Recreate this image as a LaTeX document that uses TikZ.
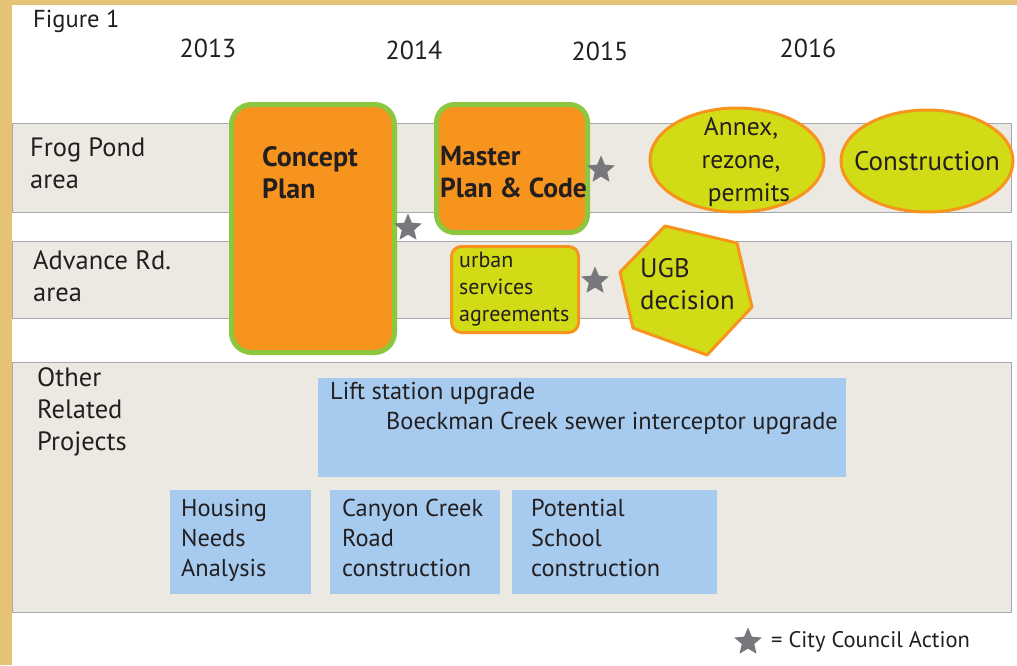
\documentclass[tikz,border=0pt]{standalone}
\usepackage{fontspec}
\setmainfont{PT Sans}
\usepackage[dvipsnames]{xcolor}
\usetikzlibrary{shapes.geometric}

\definecolor{goldbg}{HTML}{E6C277}
\definecolor{bandgray}{HTML}{ECE9E2}
\definecolor{bandline}{HTML}{A9A9A9}
\definecolor{planorange}{HTML}{F7941D}
\definecolor{plangreen}{HTML}{8DC63F}
\definecolor{limefill}{HTML}{D2DC16}
\definecolor{projblue}{HTML}{A6CBEF}
\definecolor{stargray}{HTML}{77777C}
\definecolor{inkgray}{HTML}{231F20}

\begin{document}
\begin{tikzpicture}[x=1pt,y=-1pt,text=inkgray,font=\fontsize{26}{32}\selectfont,
  band/.style={rectangle,draw=bandline,fill=bandgray,line width=1.2pt,anchor=north west},
  plan node/.style={rectangle,rounded corners=20pt,draw=plangreen,fill=planorange,line width=5pt,anchor=north west},
  step node/.style={ellipse,draw=planorange,fill=limefill,line width=3pt,inner sep=0pt},
  proj node/.style={rectangle,fill=projblue,anchor=north west},
  council/.style={star,star points=5,star point ratio=2.2,fill=stargray,minimum size=29pt,inner sep=0pt},
  label text/.style={anchor=north west,inner sep=0pt,align=left},
  box text/.style={label text,font=\fontsize{24.4}{30}\selectfont}]

            \useasboundingbox (0,0) rectangle (1017,665);
            \fill[goldbg] (0,0) rectangle (1017,665);
            \fill[white] (12,5) rectangle (1017,665);

            \node[label text, font=\fontsize{24.5}{30}\selectfont] (0) at (33,10) {Figure 1};
            \node (y1) at (208,48) {2013};
            \node (y2) at (414,50) {2014};
            \node (y3) at (600,51) {2015};
            \node (y4) at (808,48) {2016};

            % bands
            \node[band, minimum width=999pt, minimum height=89pt] (1) at (12,123) {};
            \node[band, minimum width=999pt, minimum height=77pt] (2) at (12,241) {};
            \node[band, minimum width=999pt, minimum height=250pt] (3) at (12,362) {};

            \node[label text, font=\fontsize{26.5}{32}\selectfont] (1t) at (30,138) {Frog Pond\\area};
            \node[label text, font=\fontsize{26.5}{32}\selectfont] (2t) at (33,250) {Advance Rd.\\area};
            \node[label text, font=\fontsize{26.5}{32}\selectfont] (3t) at (37,367) {Other\\Related\\Projects};

            % plans
            \node[plan node, minimum width=163pt, minimum height=248pt] (4) at (229,102) {};
            \node[plan node, rounded corners=18pt, minimum width=151pt, minimum height=128pt] (5) at (434,102) {};
            \node[label text, font=\fontsize{28}{32}\selectfont\bfseries] (4t) at (262,146) {Concept\\Plan};
            \node[label text, font=\fontsize{27.5}{32}\selectfont\bfseries] (5t) at (440,146) {Master\\Plan \& Code};

            \node[step node, minimum width=174pt, minimum height=104pt] (6) at (737,160) {};
            \node[step node, minimum width=172pt, minimum height=102pt] (7) at (927,161) {};
            \node[align=center, inner sep=0pt, font=\fontsize{25.5}{33}\selectfont] (6t) at (741,162) {Annex,\\rezone,\\\hspace*{16pt}permits};
            \node[inner sep=0pt, font=\fontsize{27}{32}\selectfont] (7t) at (927,161) {Construction};

            \node[rectangle, rounded corners=10pt, draw=planorange, fill=limefill, line width=3pt, anchor=north west,
                  minimum width=127pt, minimum height=86pt] (8) at (450,245) {};
            \node[label text, font=\fontsize{22}{27}\selectfont] (8t) at (459,252) {urban\\services\\agreements};

            \draw[draw=planorange, fill=limefill, line width=3pt, line join=round]
                (665,226) -- (737,243) -- (752,307) -- (707,355) -- (633,328) -- (620,272) -- cycle;
            \node[label text, font=\fontsize{26.8}{32}\selectfont] (9) at (640,258) {UGB\\decision};

            % stars
            \node[council] (s1) at (408,228) {};
            \node[council] (s2) at (601,170) {};
            \node[council] (s3) at (595,281) {};

            % other projects
            \node[proj node, minimum width=528pt, minimum height=99pt] (10) at (318,378) {};
            \node[box text] (10a) at (330,382) {Lift station upgrade};
            \node[box text] (10b) at (386,412) {Boeckman Creek sewer interceptor upgrade};

            \node[proj node, minimum width=141pt, minimum height=104pt] (11) at (170,490) {};
            \node[proj node, minimum width=170pt, minimum height=104pt] (12) at (330,490) {};
            \node[proj node, minimum width=205pt, minimum height=104pt] (13) at (512,490) {};
            \node[box text] (11t) at (181,499) {Housing\\Needs\\Analysis};
            \node[box text] (12t) at (342,499) {Canyon Creek\\Road\\construction};
            \node[box text] (13t) at (531,499) {Potential\\School\\construction};

            % legend
            \node[council] (s4) at (748,642) {};
            \node[anchor=west, inner sep=0pt, font=\fontsize{22.5}{26}\selectfont] (14) at (771,642) {= City Council Action};

            ;
        \end{tikzpicture}
\end{document}
